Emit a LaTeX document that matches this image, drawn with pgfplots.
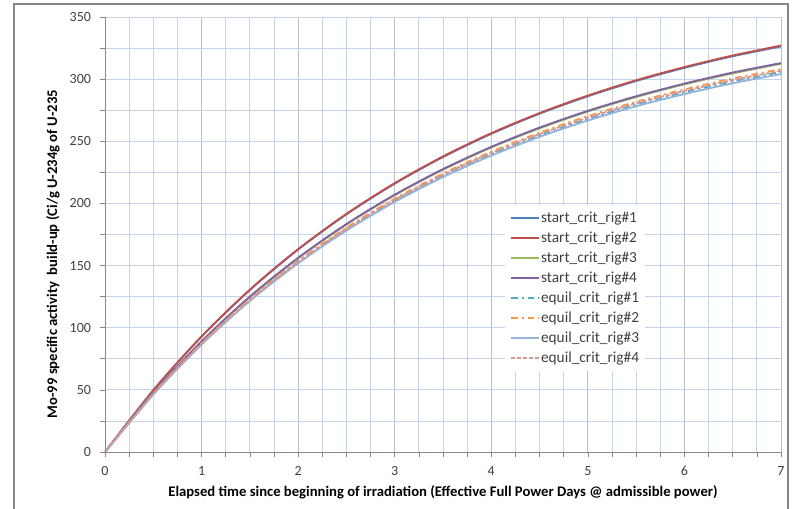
\documentclass[border=0pt]{standalone}
\usepackage{fontspec}
\setmainfont{Carlito}
\usepackage{pgfplots}
\pgfplotsset{compat=1.18}
\definecolor{sBlue}{HTML}{4F81BD}
\definecolor{sRed}{HTML}{C0504D}
\definecolor{sGreen}{HTML}{9BBB59}
\definecolor{sPurple}{HTML}{8064A2}
\definecolor{eTeal}{HTML}{4BACC6}
\definecolor{eOrange}{HTML}{F79646}
\definecolor{eLblue}{HTML}{95B3D7}
\definecolor{ePink}{HTML}{D99694}
\definecolor{gridBlue}{HTML}{C5D3EE}
\definecolor{gridGray}{HTML}{BFBFBF}
\definecolor{axGray}{HTML}{868686}
\definecolor{txt}{HTML}{404040}

% Mo-99 build-up, every half day
\pgfplotstableread{
t    s1    s2    s3    s4    e1    e2    e3    e4
0    0     0     0     0     0     0     0     0
0.5  49.6  49.7  47.5  47.6  46.5  46.8  46.2  46.6
1    92.8  93.0  88.8  89.0  87.0  87.6  86.5  87.2
1.5  130.3 130.6 124.7 125.0 122.1 123.0 121.5 122.5
2    162.9 163.2 155.9 156.2 152.6 153.7 151.8 153.1
2.5  191.2 191.6 183.0 183.4 179.1 180.5 178.2 179.7
3    215.9 216.3 206.6 207.0 202.2 203.8 201.2 202.9
3.5  237.3 237.8 227.1 227.6 222.3 224.0 221.2 223.1
4    256.0 256.5 245.0 245.5 239.8 241.6 238.5 240.6
4.5  272.2 272.7 260.4 261.0 255.0 256.9 253.6 255.8
5    286.2 286.8 273.9 274.5 268.1 270.2 266.7 269.0
5.5  298.5 299.1 285.6 286.2 279.7 281.7 278.2 280.6
6    309.1 309.7 295.8 296.4 289.6 291.7 288.0 290.5
6.5  318.4 319.0 304.6 305.3 298.3 300.5 296.7 299.2
7    326.3 327.0 312.3 312.9 305.7 308.0 304.1 306.7
}\mo

\begin{document}
\begin{tikzpicture}
\path[use as bounding box] (-78.75pt,-42.75pt) rectangle (515.25pt,339pt);
\begin{axis}[
  scale only axis, width=507pt, height=326.25pt,
  at={(0,0)}, anchor=south west,
  xmin=0, xmax=7, ymin=0, ymax=350,
  xtick={0,1,...,7}, ytick={0,50,...,350},
  minor x tick num=3, minor y tick num=1,
  axis x line*=bottom, axis y line*=left,
  axis line style={axGray, line width=0.6pt, -},
  tick align=outside, major tick length=4pt, minor tick length=4pt,
  every tick/.style={axGray, line width=0.5pt},
  grid=both,
  major x grid style={gridGray, line width=0.6pt},
  minor x grid style={gridBlue, line width=0.6pt},
  major y grid style={gridBlue, line width=0.6pt},
  minor y grid style={gridBlue, line width=0.6pt},
  tick label style={font=\fontsize{10.5}{12}\selectfont, text=txt},
  x tick label style={yshift=-3pt},
  y tick label style={xshift=-3pt},
  /pgf/number format/assume math mode=true,
  xlabel={\textbf{Elapsed time since beginning of irradiation (Effective Full Power Days @ admissible power)}},
  ylabel={\textbf{Mo-99 specific activity\ \ build-up (Ci/g U-234g of U-235}},
  every axis x label/.style={at={(axis description cs:0.5,0)}, yshift=-30.5pt, anchor=center,
    font=\fontsize{11}{13}\selectfont},
  every axis y label/.style={at={(axis description cs:0,0.455)}, xshift=-39pt, rotate=90, anchor=center,
    font=\fontsize{11}{13}\selectfont},
  legend cell align=left,
  legend style={at={(rel axis cs:0.592,0.568)}, anchor=north west, draw=none, fill=white,
    font=\fontsize{11.5}{13}\selectfont, text=txt, row sep=2.4pt, inner sep=3.5pt,
    nodes={inner sep=0.8pt, text height=8.5pt, text depth=2.5pt}},
  legend image code/.code={\draw[#1, line width=1.4pt] (0pt,0pt) -- (21pt,0pt);},
]
\addplot[sBlue, line width=1.4pt, smooth] table[x=t,y=s1] {\mo};
\addplot[sRed, line width=1.4pt, smooth] table[x=t,y=s2] {\mo};
\addplot[sGreen, line width=1.4pt, smooth] table[x=t,y=s3] {\mo};
\addplot[sPurple, line width=1.4pt, smooth] table[x=t,y=s4] {\mo};
\addplot[eTeal, line width=1.4pt, smooth, dash pattern=on 5pt off 3pt on 1.5pt off 3pt] table[x=t,y=e1] {\mo};
\addplot[eOrange, line width=1.4pt, smooth, dash pattern=on 5pt off 3pt on 1.5pt off 3pt] table[x=t,y=e2] {\mo};
\addplot[eLblue, line width=1.4pt, smooth] table[x=t,y=e3] {\mo};
\addplot[ePink, line width=1.4pt, smooth, dash pattern=on 3pt off 1.5pt] table[x=t,y=e4] {\mo};
\legend{start\_crit\_rig\#1,start\_crit\_rig\#2,start\_crit\_rig\#3,start\_crit\_rig\#4,equil\_crit\_rig\#1,equil\_crit\_rig\#2,equil\_crit\_rig\#3,equil\_crit\_rig\#4}
\end{axis}
\draw[axGray, line width=0.8pt] (-68.25pt,-42.75pt) -- (-68.25pt,336pt) -- (512.25pt,336pt) -- (512.25pt,-42.75pt);
\end{tikzpicture}
\end{document}
